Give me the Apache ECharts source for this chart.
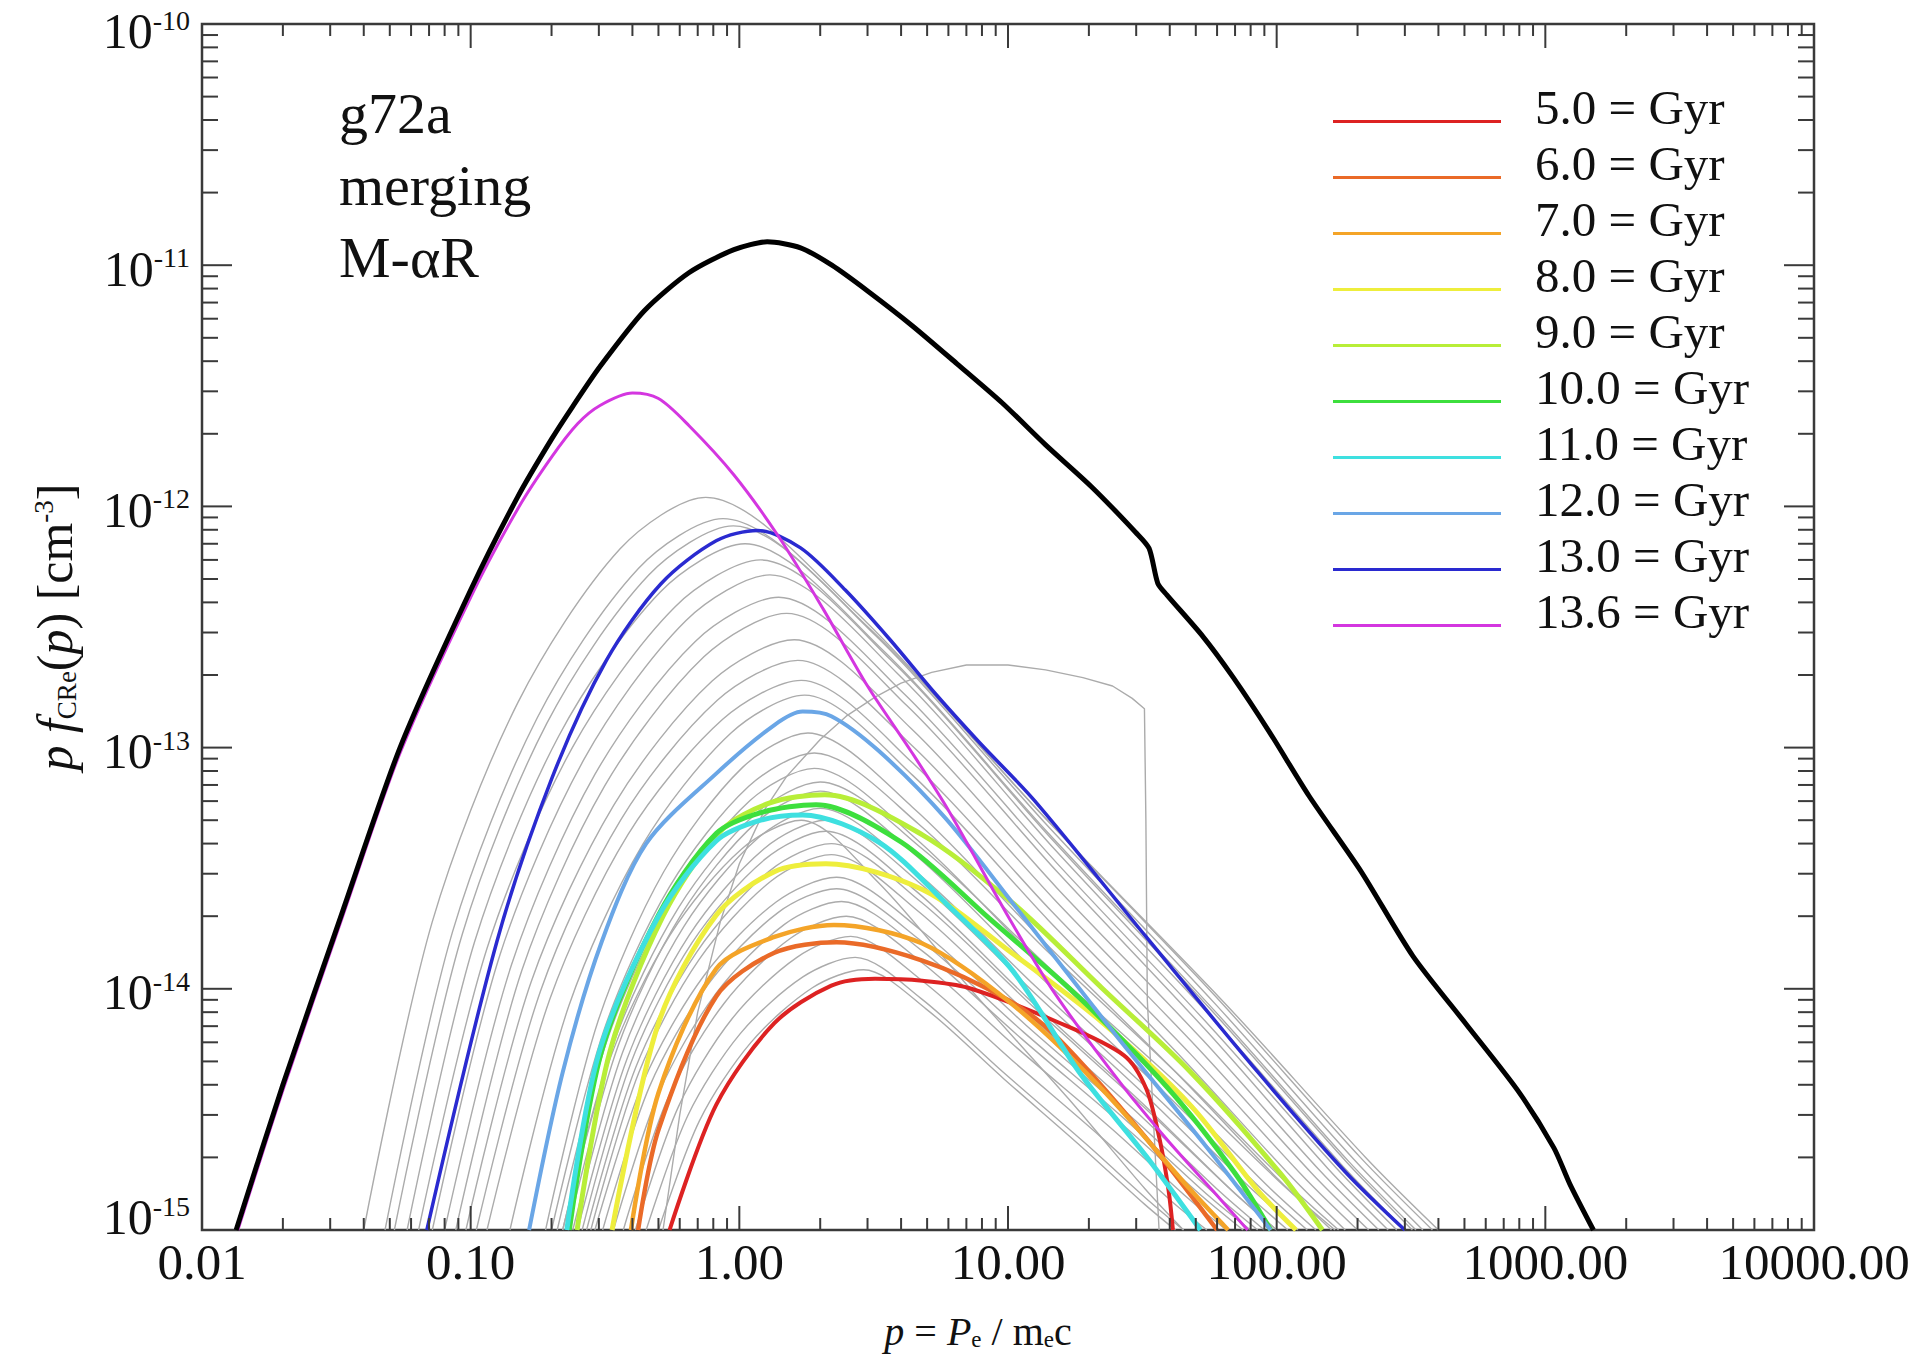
<!DOCTYPE html>
<html>
<head>
<meta charset="utf-8">
<title>g72a CRe spectra</title>
<script src="https://cdn.jsdelivr.net/npm/echarts@6/dist/echarts.min.js"></script>
<style>
  html, body { margin: 0; padding: 0; background: #fff; }
  #chart { width: 1919px; height: 1363px; }
</style>
</head>
<body>
<div id="chart"></div>
<script>
const FONT = "'Liberation Serif', 'Times New Roman', serif";

// axis ticks (decades)
const xMajorTicks = [0.01, 0.1, 1, 10, 100, 1000, 10000];
const yMajorTicks = [1e-15, 1e-14, 1e-13, 1e-12, 1e-11, 1e-10];

// legend entries, top to bottom
const legendNames = ['5.0 = Gyr', '6.0 = Gyr', '7.0 = Gyr', '8.0 = Gyr', '9.0 = Gyr',
  '10.0 = Gyr', '11.0 = Gyr', '12.0 = Gyr', '13.0 = Gyr', '13.6 = Gyr'];
const legendColors = ['#dd2222', '#ea6a28', '#f4a428', '#eeee3c', '#b8ee38',
  '#3ddf3d', '#3ee0e0', '#6aa6e6', '#2a2ad0', '#d436e0'];
const legendWidths = [4, 4.5, 4.5, 5, 5, 5, 5, 4, 3.5, 3];

// p, p*f(p)
const totalSpectrum = [[0.0134,1e-15],[0.02,4.0e-15],[0.0334,2.1e-14],[0.0546,1.0e-13],[0.1,4.5e-13],[0.15,1.1e-12],[0.2,1.9e-12],[0.24,2.6e-12],[0.303,3.8e-12],[0.443,6.47e-12],[0.649,9.3e-12],[0.955,1.16e-11],[1.27,1.25e-11],[1.69,1.18e-11],[2.21,1.0e-11],[3.01,7.8e-12],[4.41,5.6e-12],[6.46,3.9e-12],[9.5,2.69e-12],[13.8,1.8e-12],[20.4,1.21e-12],[29.9,7.8e-13],[33.5,6.7e-13],[36.1,4.8e-13],[39,4.3e-13],[53,2.9e-13],[69,1.95e-13],[94,1.16e-13],[132,6.3e-14],[206,3.07e-14],[321,1.37e-14],[504,7.2e-15],[788,3.8e-15],[1076,2.19e-15],[1234,1.55e-15],[1510,1e-15]];

const gyr5_0 = [[0.55,1e-15],[0.82,3.3e-15],[1.35,7.2e-15],[2.2,1.03e-14],[3.2,1.1e-14],[4.8,1.08e-14],[7.1,1.01e-14],[15.2,7.3e-15],[27,5.3e-15],[32.7,3.85e-15],[36.7,2.37e-15],[39.6,1.46e-15],[41.1,1e-15]];
const gyr6_0 = [[0.42,1e-15],[0.5,2.6e-15],[0.82,9.3e-15],[1.35,1.41e-14],[2.3,1.56e-14],[4.8,1.31e-14],[10,9.0e-15],[15.2,6.3e-15],[32.7,2.4e-15],[60,1e-15]];
const gyr7_0 = [[0.395,1e-15],[0.5,3.7e-15],[0.82,1.21e-14],[1.35,1.64e-14],[2.25,1.84e-14],[4.8,1.54e-14],[10.4,8.6e-15],[22.3,3.85e-15],[48,1.46e-15],[66,1e-15]];
const gyr8_0 = [[0.336,1e-15],[0.5,7.2e-15],[0.82,2.02e-14],[1.35,3.06e-14],[2.1,3.3e-14],[4.8,2.58e-14],[10.4,1.4e-14],[22.3,7.3e-15],[48,3.27e-15],[85,1.46e-15],[118,1e-15]];
const gyr9_0 = [[0.249,1e-15],[0.33,5.5e-15],[0.52,2.0e-14],[0.85,4.5e-14],[1.3,5.9e-14],[2.08,6.37e-14],[4.8,4.35e-14],[10.4,2.27e-14],[22.3,1.01e-14],[48,4.5e-15],[103,1.72e-15],[148,1e-15]];
const gyr10_0 = [[0.233,1e-15],[0.307,5.5e-15],[0.5,2.02e-14],[0.82,4.4e-14],[1.22,5.4e-14],[1.93,5.8e-14],[4.0,4.06e-14],[8.6,1.94e-14],[18.4,9.2e-15],[39.6,3.85e-15],[70,1.72e-15],[95,1e-15]];
const gyr11_0 = [[0.228,1e-15],[0.3,5.4e-15],[0.5,2.0e-14],[0.82,4.1e-14],[1.2,5.0e-14],[1.72,5.26e-14],[3.3,4.06e-14],[5.85,2.27e-14],[10.4,1.19e-14],[18.4,4.52e-15],[32.7,2.02e-15],[52,1e-15]];
const gyr12_0 = [[0.165,1e-15],[0.22,4.5e-15],[0.307,1.56e-14],[0.45,4.0e-14],[0.82,7.8e-14],[1.35,1.24e-13],[1.72,1.41e-13],[2.2,1.35e-13],[3.3,9.7e-14],[5.85,5.1e-14],[10.4,2.27e-14],[25,6.5e-15],[55,2.2e-15],[95,1e-15]];
const gyr13_0 = [[0.0687,1e-15],[0.125,1.56e-14],[0.2,7.4e-14],[0.32,2.3e-13],[0.51,4.77e-13],[0.82,7.2e-13],[1.17,7.95e-13],[1.69,6.73e-13],[2.48,4.5e-13],[3.64,2.8e-13],[5.35,1.68e-13],[7.83,1.05e-13],[12.6,6.0e-14],[32.7,1.64e-14],[85,4.52e-15],[182,1.72e-15],[300,1e-15]];
const gyr13_6 = [[0.0136,1e-15],[0.02,3.8e-15],[0.0334,2.0e-14],[0.0546,9.5e-14],[0.1,4.2e-13],[0.15,9.8e-13],[0.2,1.6e-12],[0.25,2.2e-12],[0.303,2.62e-12],[0.4,2.95e-12],[0.5,2.8e-12],[0.65,2.16e-12],[0.955,1.35e-12],[1.4,7.5e-13],[2.05,3.76e-13],[3.0,1.8e-13],[4.4,9.5e-14],[6.0,5.5e-14],[10,2.0e-14],[15,9.5e-15],[27,3.9e-15],[40,2.3e-15],[58,1.45e-15],[78,1e-15]];
const coloredSpectra = [gyr5_0, gyr6_0, gyr7_0, gyr8_0, gyr9_0, gyr10_0, gyr11_0, gyr12_0, gyr13_0, gyr13_6];

// the unlabelled intermediate snapshots (thin grey)
const graySpectra = [
  [[0.040,1e-15],[0.0719,1.89e-14],[0.150,1.54e-13],[0.360,6.67e-13],[0.75,1.09e-12],[2.61,3.81e-13],[12.4,5.77e-14],[58.7,9.4e-15],[204,2.01e-15],[380,1e-15]],
  [[0.048,1e-15],[0.0857,1.73e-14],[0.177,1.33e-13],[0.421,5.53e-13],[0.87,8.9e-13],[2.97,3.21e-13],[13.7,5.13e-14],[63.6,8.8e-15],[217,1.97e-15],[400,1e-15]],
  [[0.052,1e-15],[0.093,1.68e-14],[0.192,1.26e-13],[0.460,5.19e-13],[0.95,8.3e-13],[3.10,3.03e-13],[13.6,4.93e-14],[59.4,8.6e-15],[194,1.96e-15],[350,1e-15]],
  [[0.058,1e-15],[0.1035,1.57e-14],[0.213,1.12e-13],[0.509,4.43e-13],[1.05,7.0e-13],[3.32,2.62e-13],[14.0,4.47e-14],[58.8,8.1e-15],[185,1.93e-15],[330,1e-15]],
  [[0.064,1e-15],[0.115,1.47e-14],[0.239,1.0e-13],[0.577,3.84e-13],[1.2,6.0e-13],[3.67,2.30e-13],[14.8,4.09e-14],[59.9,7.7e-15],[183,1.9e-15],[320,1e-15]],
  [[0.072,1e-15],[0.1285,1.38e-14],[0.265,9.0e-14],[0.632,3.36e-13],[1.3,5.2e-13],[3.86,2.04e-13],[15.0,3.76e-14],[58.6,7.4e-15],[174,1.87e-15],[300,1e-15]],
  [[0.080,1e-15],[0.142,1.26e-14],[0.290,7.74e-14],[0.684,2.75e-13],[1.4,4.2e-13],[4.04,1.70e-13],[15.2,3.32e-14],[57.1,6.9e-15],[165,1.83e-15],[280,1e-15]],
  [[0.088,1e-15],[0.155,1.19e-14],[0.315,6.92e-14],[0.738,2.38e-13],[1.5,3.6e-13],[4.21,1.49e-13],[15.3,3.04e-14],[55.4,6.6e-15],[155,1.8e-15],[260,1e-15]],
  [[0.096,1e-15],[0.168,1.07e-14],[0.341,5.78e-14],[0.792,1.89e-13],[1.6,2.8e-13],[4.36,1.20e-13],[15.2,2.62e-14],[53.3,6.1e-15],[145,1.76e-15],[240,1e-15]],
  [[0.105,1e-15],[0.182,9.8e-15],[0.362,5.02e-14],[0.828,1.57e-13],[1.65,2.3e-13],[4.39,1.02e-13],[14.9,2.34e-14],[50.7,5.7e-15],[135,1.72e-15],[220,1e-15]],
  [[0.115,1e-15],[0.197,9.06e-15],[0.386,4.38e-14],[0.867,1.31e-13],[1.7,1.9e-13],[4.41,8.65e-14],[14.5,2.10e-14],[47.8,5.36e-15],[124,1.69e-15],[200,1e-15]],
  [[0.14,1e-15],[0.232,8.5e-15],[0.436,3.95e-14],[0.931,1.15e-13],[1.75,1.65e-13],[4.42,7.67e-14],[14.1,1.93e-14],[44.8,5.12e-15],[113,1.67e-15],[180,1e-15]],
  [[0.19,1e-15],[0.298,7.35e-15],[0.5225,3.05e-14],[1.026,8.26e-14],[1.8,1.15e-13],[4.42,5.65e-14],[13.6,1.57e-14],[41.6,4.57e-15],[102,1.61e-15],[160,1e-15]],
  [[0.20,1e-15],[0.314,6.78e-15],[0.55,2.65e-14],[1.084,6.91e-14],[1.9,9.5e-14],[4.67,4.8e-14],[14.3,1.4e-14],[44.1,4.3e-15],[108,1.58e-15],[170,1e-15]],
  [[0.21,1e-15],[0.326,6.37e-15],[0.566,2.39e-14],[1.096,6.03e-14],[1.9,8.2e-14],[4.49,4.24e-14],[13.1,1.29e-14],[38.5,4.1e-15],[91,1.55e-15],[140,1e-15]],
  [[0.22,1e-15],[0.342,6.03e-15],[0.594,2.17e-14],[1.152,5.33e-14],[2.0,7.2e-14],[4.83,3.78e-14],[14.6,1.19e-14],[43.9,3.93e-15],[106,1.53e-15],[165,1e-15]],
  [[0.23,1e-15],[0.354,5.8e-15],[0.609,2.04e-14],[1.164,4.92e-14],[2.0,6.6e-14],[4.61,3.52e-14],[13.1,1.13e-14],[37.2,3.82e-15],[85.7,1.52e-15],[130,1e-15]],
  [[0.24,1e-15],[0.367,5.42e-15],[0.623,1.82e-14],[1.177,4.23e-14],[2.0,5.6e-14],[4.54,3.06e-14],[12.6,1.03e-14],[35.1,3.62e-15],[79.6,1.5e-15],[120,1e-15]],
  [[0.25,1e-15],[0.383,5.17e-15],[0.651,1.67e-14],[1.233,3.8e-14],[2.1,5.0e-14],[4.63,2.78e-14],[12.5,9.66e-15],[33.5,3.5e-15],[74,1.48e-15],[110,1e-15]],
  [[0.26,1e-15],[0.395,4.94e-15],[0.666,1.55e-14],[1.244,3.44e-14],[2.1,4.5e-14],[4.55,2.54e-14],[11.9,9.1e-15],[31.4,3.38e-15],[68,1.46e-15],[100,1e-15]],
  [[0.27,1e-15],[0.411,4.71e-15],[0.694,1.42e-14],[1.30,3.09e-14],[2.2,4.0e-14],[4.72,2.3e-14],[12.3,8.5e-15],[31.8,3.26e-15],[68.3,1.45e-15],[100,1e-15]],
  [[0.28,1e-15],[0.423,4.51e-15],[0.708,1.32e-14],[1.313,2.8e-14],[2.2,3.6e-14],[4.62,2.1e-14],[11.7,7.98e-15],[29.5,3.15e-15],[62,1.43e-15],[90,1e-15]],
  [[0.29,1e-15],[0.439,4.11e-15],[0.737,1.13e-14],[1.371,2.29e-14],[2.3,2.9e-14],[4.74,1.75e-14],[11.7,7.05e-15],[28.8,2.94e-15],[59.3,1.4e-15],[85,1e-15]],
  [[0.31,1e-15],[0.463,3.93e-15],[0.764,1.04e-14],[1.393,2.07e-14],[2.3,2.6e-14],[4.68,1.6e-14],[11.4,6.63e-15],[27.6,2.84e-15],[56.1,1.38e-15],[80,1e-15]],
  [[0.34,1e-15],[0.503,3.73e-15],[0.819,9.57e-15],[1.472,1.85e-14],[2.4,2.3e-14],[4.78,1.44e-14],[11.3,6.17e-15],[26.7,2.73e-15],[53.2,1.37e-15],[75,1e-15]],
  [[0.37,1e-15],[0.542,3.52e-15],[0.874,8.65e-15],[1.55,1.62e-14],[2.5,2.0e-14],[4.80,1.28e-14],[10.8,5.69e-15],[24.5,2.61e-15],[46.9,1.35e-15],[65,1e-15]],
  [[0.41,1e-15],[0.593,3.24e-15],[0.941,7.53e-15],[1.638,1.35e-14],[2.6,1.65e-14],[4.79,1.08e-14],[10.3,5.08e-15],[22.0,2.45e-15],[40.5,1.32e-15],[55,1e-15]],
  [[0.45,1e-15],[0.644,2.99e-15],[1.008,6.52e-15],[1.724,1.12e-14],[2.7,1.35e-14],[4.74,9.13e-15],[9.58,4.52e-15],[19.3,2.3e-15],[34,1.3e-15],[45,1e-15]],
  [[0.50,1e-15],[0.711,2.84e-15],[1.103,5.98e-15],[1.87,1.01e-14],[2.9,1.2e-14],[4.95,8.26e-15],[9.66,4.23e-15],[18.8,2.21e-15],[32.2,1.28e-15],[42,1e-15]],
  [[0.22,1e-15],[0.331,5.17e-15],[0.552,1.67e-14],[1.02,3.8e-14],[1.7,5.0e-14],[3.27,2.78e-14],[7.43,9.66e-15],[16.8,3.5e-15],[32.4,1.48e-15],[45,1e-15]]
];
// one grey snapshot with a flat top and a sharp cut near p ~ 33
const grayCutoff = [[0.52,1e-15],[0.6,3e-15],[0.7,8e-15],[0.85,1.9e-14],[1.0,3.3e-14],[1.25,5.6e-14],[1.5,7.6e-14],[2.0,1.08e-13],[2.5,1.35e-13],[3.2,1.62e-13],[4.0,1.85e-13],[5.2,2.05e-13],[7.0,2.2e-13],[10,2.2e-13],[13.8,2.1e-13],[19,1.95e-13],[24.5,1.8e-13],[29,1.6e-13],[32.2,1.45e-13],[32.6,5e-14],[33.0,9e-15],[36.5,1e-15]];

// minor ticks at 2..9 of every decade
const xMinorTicks = [];
for (let d = -2; d < 4; d++) for (let k = 2; k < 10; k++) xMinorTicks.push(k * Math.pow(10, d));
const yMinorTicks = [];
for (let d = -15; d < -10; d++) for (let k = 2; k < 10; k++) yMinorTicks.push(k * Math.pow(10, d));

const tickStyle = { stroke: '#3a3a3a', lineWidth: 2 };

const chart = echarts.init(document.getElementById('chart'), null, { renderer: 'svg' });

const series = [];
graySpectra.forEach((d, i) => {
  series.push({
    type: 'line', name: 'snap' + i, data: d, showSymbol: false, silent: true,
    smooth: 0.3, z: 2,
    lineStyle: { color: '#ababab', width: 1.4 }, itemStyle: { color: '#ababab' }
  });
});
series.push({
  type: 'line', name: 'snapCut', data: grayCutoff, showSymbol: false, silent: true,
  smooth: false, z: 2,
  lineStyle: { color: '#ababab', width: 1.4 }, itemStyle: { color: '#ababab' }
});
coloredSpectra.forEach((d, i) => {
  series.push({
    type: 'line', name: legendNames[i], data: d, showSymbol: false, silent: true,
    smooth: 0.3, z: 3,
    lineStyle: { color: legendColors[i], width: legendWidths[i] }, itemStyle: { color: legendColors[i] }
  });
});
series.push({
  type: 'line', name: 'total', data: totalSpectrum, showSymbol: false, silent: true,
  smooth: 0.25, z: 4,
  lineStyle: { color: '#000', width: 5 }, itemStyle: { color: '#000' }
});

// box ticks on all four sides
series.push({
  type: 'custom', name: 'xticks', silent: true, clip: false, z: 6,
  data: xMajorTicks.map(v => [v, 1e-15, 24]).concat(xMinorTicks.map(v => [v, 1e-15, 12])),
  encode: { x: 0, y: 1 },
  renderItem: (params, api) => {
    const x = api.value(0), len = api.value(2);
    const b = api.coord([x, 1e-15]);
    const t = api.coord([x, 1e-10]);
    return { type: 'group', children: [
      { type: 'line', shape: { x1: b[0], y1: b[1], x2: b[0], y2: b[1] - len }, style: tickStyle },
      { type: 'line', shape: { x1: t[0], y1: t[1], x2: t[0], y2: t[1] + len }, style: tickStyle }
    ] };
  }
});
series.push({
  type: 'custom', name: 'yticks', silent: true, clip: false, z: 6,
  data: yMajorTicks.map(v => [0.01, v, 30]).concat(yMinorTicks.map(v => [0.01, v, 16])),
  encode: { x: 0, y: 1 },
  renderItem: (params, api) => {
    const y = api.value(1), len = api.value(2);
    const l = api.coord([0.01, y]);
    const r = api.coord([10000, y]);
    return { type: 'group', children: [
      { type: 'line', shape: { x1: l[0], y1: l[1], x2: l[0] + len, y2: l[1] }, style: tickStyle },
      { type: 'line', shape: { x1: r[0], y1: r[1], x2: r[0] - len, y2: r[1] }, style: tickStyle }
    ] };
  }
});

// y labels: 10^n; the end labels are nudged inwards like in the original plot
function yLabel(v) {
  const n = Math.round(Math.log10(v));
  const text = '{a|10}{b|' + n + '}';
  if (n === -10) return '{top| }\n' + text;
  if (n === -15) return text + '\n{bot| }';
  return '{mid| }\n' + text;
}

const option = {
  animation: false,
  backgroundColor: '#fff',
  title: {
    text: 'g72a\nmerging\nM-αR',
    left: 334, top: 72,
    textStyle: { fontFamily: FONT, fontSize: 58, fontWeight: 'normal', color: '#111', lineHeight: 72 }
  },
  legend: {
    data: legendNames,
    orient: 'vertical', left: 1328, top: 74,
    itemWidth: 168, itemHeight: 32, itemGap: 0,
    // thin line sitting at the bottom of the icon box, so the label rides above it
    icon: 'path://M0,0L168,0L168,0.01L0,0.01Z M0,29L168,29L168,32L0,32Z',
    selectedMode: false,
    textStyle: { fontFamily: FONT, fontSize: 49, color: '#111', lineHeight: 56, padding: [0, 0, 0, 29] }
  },
  grid: {
    left: 202, right: 105, top: 24, bottom: 133,
    show: true, borderColor: '#3a3a3a', borderWidth: 2.5, backgroundColor: '#fff',
    outerBoundsMode: 'none'
  },
  xAxis: {
    type: 'log', logBase: 10, min: 0.01, max: 10000, splitNumber: 6,
    axisLine: { show: false }, axisTick: { show: false }, splitLine: { show: false },
    axisLabel: {
      formatter: v => Number(v).toFixed(2),
      fontFamily: FONT, fontSize: 51, color: '#111', margin: 6, hideOverlap: false
    },
    name: '{i|p} = {i|P}{s|e} / m{s|e}c',
    nameLocation: 'middle', nameGap: 81,
    nameTextStyle: {
      fontFamily: FONT, fontSize: 40, color: '#111', padding: [0, 60, 0, 0],
      rich: {
        i: { fontFamily: FONT, fontSize: 40, fontStyle: 'italic', color: '#111' },
        s: { fontFamily: FONT, fontSize: 23, verticalAlign: 'bottom', color: '#111' }
      }
    }
  },
  yAxis: {
    type: 'log', logBase: 10, min: 1e-15, max: 1e-10, splitNumber: 5,
    axisLine: { show: false }, axisTick: { show: false }, splitLine: { show: false },
    axisLabel: {
      formatter: yLabel,
      margin: 12, color: '#111', align: 'right',
      rich: {
        a: { fontFamily: FONT, fontSize: 50, color: '#111' },
        b: { fontFamily: FONT, fontSize: 28, verticalAlign: 'top', color: '#111' },
        top: { fontSize: 4, lineHeight: 14 },
        mid: { fontSize: 4, lineHeight: 7 },
        bot: { fontSize: 4, lineHeight: 26 }
      }
    },
    name: '{i|p f}{s|CRe}({i|p}) [cm{u|-3}]',
    nameLocation: 'middle', nameGap: 122, nameRotate: 90,
    nameTextStyle: {
      fontFamily: FONT, fontSize: 50, color: '#111',
      rich: {
        i: { fontFamily: FONT, fontSize: 50, fontStyle: 'italic', color: '#111' },
        s: { fontFamily: FONT, fontSize: 27, verticalAlign: 'bottom', color: '#111' },
        u: { fontFamily: FONT, fontSize: 27, verticalAlign: 'top', color: '#111' }
      }
    }
  },
  series: series
};

chart.setOption(option);
</script>
</body>
</html>
